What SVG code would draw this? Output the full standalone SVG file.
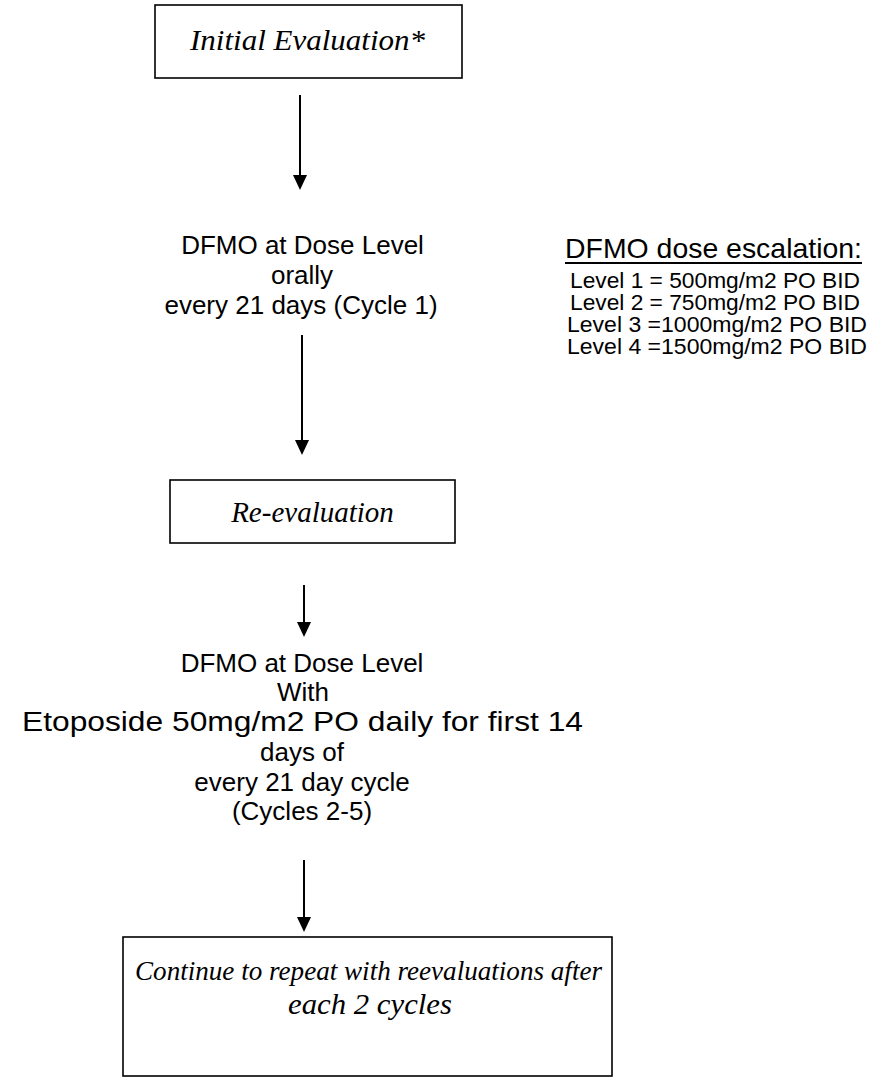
<svg xmlns="http://www.w3.org/2000/svg" width="874" height="1080" viewBox="0 0 874 1080">
<style>
.box{fill:#fff;stroke:#000;stroke-width:1.6}
.it{font-family:"Liberation Serif",serif;font-style:italic;font-size:29px;fill:#000;text-anchor:middle}
.sn{font-family:"Liberation Sans",sans-serif;font-size:26px;fill:#000;text-anchor:middle}
.lv{font-family:"Liberation Sans",sans-serif;font-size:21.5px;fill:#000;text-anchor:middle}
.ln{stroke:#000;stroke-width:2;fill:none}
</style>
<rect width="874" height="1080" fill="#fff"/>
<g id="connectors">
<line class="ln" x1="300" y1="95" x2="300" y2="176"/><path d="M293,175 L307,175 L300,190 Z"/>
<line class="ln" x1="302" y1="335" x2="302" y2="441"/><path d="M295,440 L309,440 L302,455 Z"/>
<line class="ln" x1="304" y1="585" x2="304" y2="623"/><path d="M297,622 L311,622 L304,637 Z"/>
<line class="ln" x1="304" y1="860" x2="304" y2="918"/><path d="M297,917 L311,917 L304,932 Z"/>
</g>
<g id="n1"><rect class="box" x="155" y="5" width="307" height="73"/><text class="it" x="307.5" y="50" style="font-size:30px" textLength="235" lengthAdjust="spacingAndGlyphs">Initial Evaluation*</text></g>
<g id="n2"><text class="sn" x="302.5" y="254">DFMO at Dose Level</text><text class="sn" x="302" y="284">orally</text><text class="sn" x="301" y="314">every 21 days (Cycle 1)</text></g>
<g id="n3"><text class="sn" x="713.5" y="258" style="font-size:28px" textLength="297" lengthAdjust="spacingAndGlyphs">DFMO dose escalation:</text><line x1="565" y1="263" x2="862" y2="263" stroke="#000" stroke-width="2"/>
<text class="lv" x="715" y="288" textLength="290" lengthAdjust="spacingAndGlyphs">Level 1 = 500mg/m2 PO BID</text>
<text class="lv" x="715" y="310" textLength="290" lengthAdjust="spacingAndGlyphs">Level 2 = 750mg/m2 PO BID</text>
<text class="lv" x="717" y="332" textLength="300" lengthAdjust="spacingAndGlyphs">Level 3 =1000mg/m2 PO BID</text>
<text class="lv" x="717" y="354" textLength="300" lengthAdjust="spacingAndGlyphs">Level 4 =1500mg/m2 PO BID</text></g>
<g id="n4"><rect class="box" x="170" y="480" width="285" height="63"/><text class="it" x="312.5" y="522">Re-evaluation</text></g>
<g id="n5"><text class="sn" x="302" y="672">DFMO at Dose Level</text><text class="sn" x="303" y="701">With</text><text class="sn" x="302.5" y="731" style="font-size:27.5px" textLength="561" lengthAdjust="spacingAndGlyphs">Etoposide 50mg/m2 PO daily for first 14</text><text class="sn" x="302" y="761">days of</text><text class="sn" x="302" y="791">every 21 day cycle</text><text class="sn" x="302" y="820">(Cycles 2-5)</text></g>
<g id="n6"><rect class="box" x="123" y="937" width="489" height="139"/><text class="it" x="368.5" y="980" style="font-size:28px" textLength="467" lengthAdjust="spacingAndGlyphs">Continue to repeat with reevaluations after</text><text class="it" x="370" y="1014" style="font-size:29px" textLength="164" lengthAdjust="spacingAndGlyphs">each 2 cycles</text></g>
</svg>
